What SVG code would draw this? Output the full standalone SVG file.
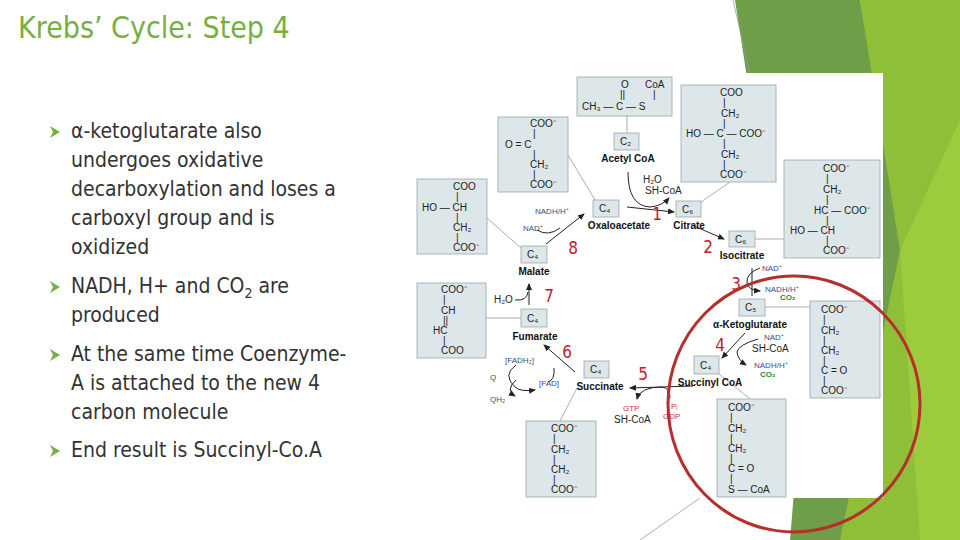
<svg xmlns="http://www.w3.org/2000/svg" width="960" height="540" viewBox="0 0 960 540">
<defs>
<marker id="ah" markerWidth="8" markerHeight="8" refX="6" refY="3" orient="auto" markerUnits="userSpaceOnUse"><path d="M0,0 L7,3 L0,6 z" fill="#222"/></marker>
<style>
.t{font-family:"DejaVu Sans Condensed","DejaVu Sans",sans-serif;font-size:21px;fill:#333}
.h{font-family:"DejaVu Sans Condensed","DejaVu Sans",sans-serif;font-size:30px;fill:#76b043}
.box{fill:#dde6e8;stroke:#9aa6aa;stroke-width:0.8}
.m{font-family:"Liberation Sans",Arial,sans-serif;font-size:10px;fill:#222}
.n{font-family:"Liberation Sans",Arial,sans-serif;font-size:10px;font-weight:bold;fill:#111;text-anchor:middle}
.b{font-family:"Liberation Sans",Arial,sans-serif;font-size:8px;fill:#3a4a8a}
.g{font-family:"Liberation Sans",Arial,sans-serif;font-size:8px;font-weight:bold;fill:#2a8a4a}
.r{font-family:"Liberation Sans",Arial,sans-serif;font-size:8px;fill:#d03040}
.num{font-family:"DejaVu Sans Condensed","DejaVu Sans",sans-serif;font-size:17px;fill:#c0202a;text-anchor:middle}
.ln{stroke:#999;stroke-width:0.8;fill:none}
.ar{stroke:#222;stroke-width:1;fill:none}
</style>
</defs>
<rect width="960" height="540" fill="#fff"/>
<polygon points="735,0 860,0 905,240 860,540 790,540 800,420" fill="#6f9e48"/>
<polygon points="860,0 960,0 960,540 840,540 900,250" fill="#8fbe38"/>
<polygon points="900,250 960,120 960,540 920,540" fill="#9ccb3e"/>
<line x1="733" y1="0" x2="750" y2="73" class="ln"/>
<rect x="470" y="73" width="413" height="425" fill="#fff"/>

<g id="title"><text x="18" y="38" class="h">Krebs’ Cycle:  Step 4</text></g>
<g id="bullets">
<g fill="#76b043"><polygon points="50,126 60,132 50,138 53,132"/><polygon points="50,281 60,287 50,293 53,287"/><polygon points="50,349 60,355 50,361 53,355"/><polygon points="50,445 60,451 50,457 53,451"/></g>
<text class="t"><tspan x="71" y="138">α-ketoglutarate also</tspan><tspan x="71" y="167">undergoes oxidative</tspan><tspan x="71" y="196">decarboxylation and loses a</tspan><tspan x="71" y="225">carboxyl group and is</tspan><tspan x="71" y="254">oxidized</tspan></text>
<text class="t"><tspan x="71" y="293">NADH, H+ and CO<tspan font-size="14" dy="5">2</tspan><tspan dy="-5"> are</tspan></tspan><tspan x="71" y="322">produced</tspan></text>
<text class="t"><tspan x="71" y="361">At the same time Coenzyme-</tspan><tspan x="71" y="390">A is attached to the new 4</tspan><tspan x="71" y="419">carbon molecule</tspan></text>
<text class="t"><tspan x="71" y="457">End result is Succinyl-Co.A</tspan></text>
</g>

<g id="connectors">
<line class="ln" x1="627" y1="116" x2="627" y2="133"/>
<line class="ln" x1="568" y1="155" x2="595" y2="200"/>
<line class="ln" x1="730" y1="182" x2="701" y2="202"/>
<line class="ln" x1="487" y1="218" x2="521" y2="248"/>
<line class="ln" x1="755" y1="239" x2="784" y2="239"/>
<line class="ln" x1="486" y1="318" x2="521" y2="318"/>
<line class="ln" x1="765" y1="307" x2="810" y2="307"/>
<line class="ln" x1="719" y1="374" x2="750" y2="399"/>
<line class="ln" x1="560" y1="421" x2="577" y2="388"/>
<line class="ln" x1="700" y1="498" x2="640" y2="540"/>
<line class="ar" x1="627" y1="207" x2="674" y2="212" marker-end="url(#ah)"/>
<path class="ar" d="M628,172 Q628,206 650,207 Q662,206 669,198" marker-end="url(#ah)"/>
<line class="ar" x1="694" y1="226" x2="724" y2="239" marker-end="url(#ah)"/>
<path class="ar" d="M760,268 Q746,273 747,283 Q748,290 760,291" marker-end="url(#ah)"/>
<line class="ar" x1="752" y1="268" x2="752" y2="296"/>
<line class="ar" x1="745" y1="333" x2="722" y2="358" marker-end="url(#ah)"/>
<path class="ar" d="M758,339 Q738,345 737,352 Q738,360 746,365" marker-end="url(#ah)"/>
<line class="ar" x1="693" y1="386" x2="630" y2="388" marker-end="url(#ah)"/>
<path class="ar" d="M670,398 Q670,388 662,387 Q640,387 637,399" marker-end="url(#ah)"/>
<line class="ar" x1="575" y1="372" x2="544" y2="345" marker-end="url(#ah)"/>
<path class="ar" d="M554,368 Q555,380 548,382"/>
<path class="ar" d="M516,365 Q502,375 515,387 Q520,392 535,390" marker-end="url(#ah)"/>
<path class="ar" d="M516,380 Q505,390 515,396" marker-end="url(#ah)"/>
<line class="ar" x1="529" y1="305" x2="529" y2="284" marker-end="url(#ah)"/>
<path class="ar" d="M515,300 Q527,301 528,292"/>
<line class="ar" x1="546" y1="244" x2="584" y2="214" marker-end="url(#ah)"/>
<path class="ar" d="M537,230 Q548,237 560,228"/>
</g>

<g id="acetylcoa">
<rect class="box" x="577" y="77" width="95" height="39"/>
<text class="m" x="621" y="88">O</text><text class="m" x="645" y="88">CoA</text>
<text class="m" x="620" y="98">||</text><text class="m" x="653" y="98">|</text>
<text class="m" x="582" y="110">CH₃ — C — S</text>
<rect class="box" x="614" y="133" width="25" height="17"/><text class="m" x="620" y="145">C₂</text>
<text class="n" x="628" y="162">Acetyl CoA</text>
<text class="m" x="643" y="183" font-size="9">H₂O</text><text class="m" x="645" y="194" font-size="9">SH-CoA</text>
</g>
<g id="oxaloacetate">
<rect class="box" x="498" y="117" width="70" height="75"/>
<text class="m" x="530" y="127">COO⁻</text><text class="m" x="533" y="137">|</text>
<text class="m" x="505" y="148">O = C</text><text class="m" x="533" y="158">|</text>
<text class="m" x="530" y="168">CH₂</text><text class="m" x="533" y="178">|</text><text class="m" x="530" y="188">COO⁻</text>
<rect class="box" x="593" y="200" width="26" height="17"/><text class="m" x="599" y="212">C₄</text>
<text class="n" x="619" y="229">Oxaloacetate</text>
</g>
<g id="citrate">
<rect class="box" x="681" y="85" width="95" height="97"/>
<text class="m" x="720" y="96">COO</text><text class="m" x="723" y="106">|</text><text class="m" x="721" y="117">CH₂</text><text class="m" x="723" y="127">|</text>
<text class="m" x="686" y="137">HO — C — COO⁻</text><text class="m" x="723" y="147">|</text><text class="m" x="721" y="158">CH₂</text><text class="m" x="723" y="168">|</text><text class="m" x="720" y="178">COO⁻</text>
<rect class="box" x="676" y="201" width="25" height="16"/><text class="m" x="682" y="213">C₆</text>
<text class="n" x="689" y="229">Citrate</text>
</g>
<g id="isocitrate">
<rect class="box" x="784" y="160" width="96" height="98"/>
<text class="m" x="823" y="172">COO⁻</text><text class="m" x="826" y="182">|</text><text class="m" x="823" y="193">CH₂</text><text class="m" x="826" y="203">|</text>
<text class="m" x="814" y="214">HC — COO⁻</text><text class="m" x="826" y="224">|</text><text class="m" x="790" y="234">HO — CH</text><text class="m" x="826" y="244">|</text><text class="m" x="823" y="254">COO⁻</text>
<rect class="box" x="729" y="231" width="26" height="16"/><text class="m" x="735" y="243">C₆</text>
<text class="n" x="742" y="259">Isocitrate</text>
<text class="b" x="762" y="271">NAD⁺</text>
<text class="b" x="765" y="292">NADH/H⁺</text><text class="g" x="780" y="300">CO₂</text>
</g>
<g id="aketoglutarate">
<rect class="box" x="810" y="301" width="70" height="97"/>
<text class="m" x="821" y="313">COO⁻</text><text class="m" x="823" y="323">|</text><text class="m" x="821" y="334">CH₂</text><text class="m" x="823" y="344">|</text><text class="m" x="821" y="354">CH₂</text><text class="m" x="823" y="364">|</text>
<text class="m" x="821" y="374">C = O</text><text class="m" x="823" y="384">|</text><text class="m" x="821" y="394">COO⁻</text>
<rect class="box" x="739" y="299" width="26" height="17"/><text class="m" x="745" y="311">C₅</text>
<text class="n" x="750" y="328">α-Ketoglutarate</text>
<text class="b" x="764" y="340">NAD⁺</text><text class="m" x="752" y="352" font-size="9">SH-CoA</text>
<text class="b" x="754" y="368">NADH/H⁺</text><text class="g" x="760" y="377">CO₂</text>
</g>
<g id="succinylcoa">
<rect class="box" x="717" y="399" width="69" height="98"/>
<text class="m" x="728" y="411">COO⁻</text><text class="m" x="730" y="421">|</text><text class="m" x="728" y="432">CH₂</text><text class="m" x="730" y="442">|</text><text class="m" x="728" y="452">CH₂</text><text class="m" x="730" y="462">|</text>
<text class="m" x="728" y="472">C = O</text><text class="m" x="730" y="482">|</text><text class="m" x="728" y="493">S — CoA</text>
<rect class="box" x="694" y="356" width="25" height="18"/><text class="m" x="700" y="369">C₄</text>
<text class="n" x="710" y="386">Succinyl CoA</text>
<text class="r" x="671" y="409">Pᵢ</text><text class="r" x="663" y="419">GDP</text>
<text class="r" x="623" y="411">GTP</text><text class="m" x="614" y="423" font-size="9">SH-CoA</text>
</g>
<g id="succinate">
<rect class="box" x="526" y="421" width="70" height="76"/>
<text class="m" x="551" y="432">COO⁻</text><text class="m" x="553" y="442">|</text><text class="m" x="551" y="453">CH₂</text><text class="m" x="553" y="463">|</text><text class="m" x="551" y="473">CH₂</text><text class="m" x="553" y="483">|</text><text class="m" x="551" y="493">COO⁻</text>
<rect class="box" x="584" y="361" width="25" height="17"/><text class="m" x="590" y="373">C₄</text>
<text class="n" x="600" y="390">Succinate</text>
<text class="b" x="505" y="363">[FADH₂]</text><text class="b" x="539" y="386">[FAD]</text>
<text class="b" x="490" y="380">Q</text><text class="b" x="490" y="402">QH₂</text>
</g>
<g id="fumarate">
<rect class="box" x="417" y="283" width="69" height="75"/>
<text class="m" x="441" y="293">COO⁻</text><text class="m" x="443" y="303">|</text><text class="m" x="441" y="314">CH</text><text class="m" x="443" y="324">||</text><text class="m" x="433" y="334">HC</text><text class="m" x="443" y="344">|</text><text class="m" x="441" y="354">COO</text>
<rect class="box" x="521" y="309" width="26" height="18"/><text class="m" x="527" y="322">C₄</text>
<text class="n" x="535" y="340">Fumarate</text>
<text class="m" x="494" y="303" font-size="9">H₂O</text>
</g>
<g id="malate">
<rect class="box" x="417" y="179" width="70" height="75"/>
<text class="m" x="453" y="190">COO</text><text class="m" x="456" y="200">|</text><text class="m" x="422" y="211">HO — CH</text><text class="m" x="456" y="221">|</text><text class="m" x="453" y="231">CH₂</text><text class="m" x="456" y="241">|</text><text class="m" x="453" y="251">COO⁻</text>
<rect class="box" x="521" y="246" width="26" height="17"/><text class="m" x="527" y="258">C₄</text>
<text class="n" x="534" y="275">Malate</text>
<text class="b" x="535" y="214">NADH/H⁺</text><text class="b" x="523" y="231">NAD⁺</text>
</g>
<g id="numbers">
<text class="num" x="657" y="220">1</text><text class="num" x="708" y="253">2</text><text class="num" x="736" y="290">3</text><text class="num" x="720" y="351">4</text>
<text class="num" x="643" y="380">5</text><text class="num" x="567" y="358">6</text><text class="num" x="549" y="302">7</text><text class="num" x="573" y="254">8</text>
</g>
<ellipse cx="794" cy="404" rx="126" ry="128" fill="none" stroke="#b5302a" stroke-width="3"/>
</svg>
